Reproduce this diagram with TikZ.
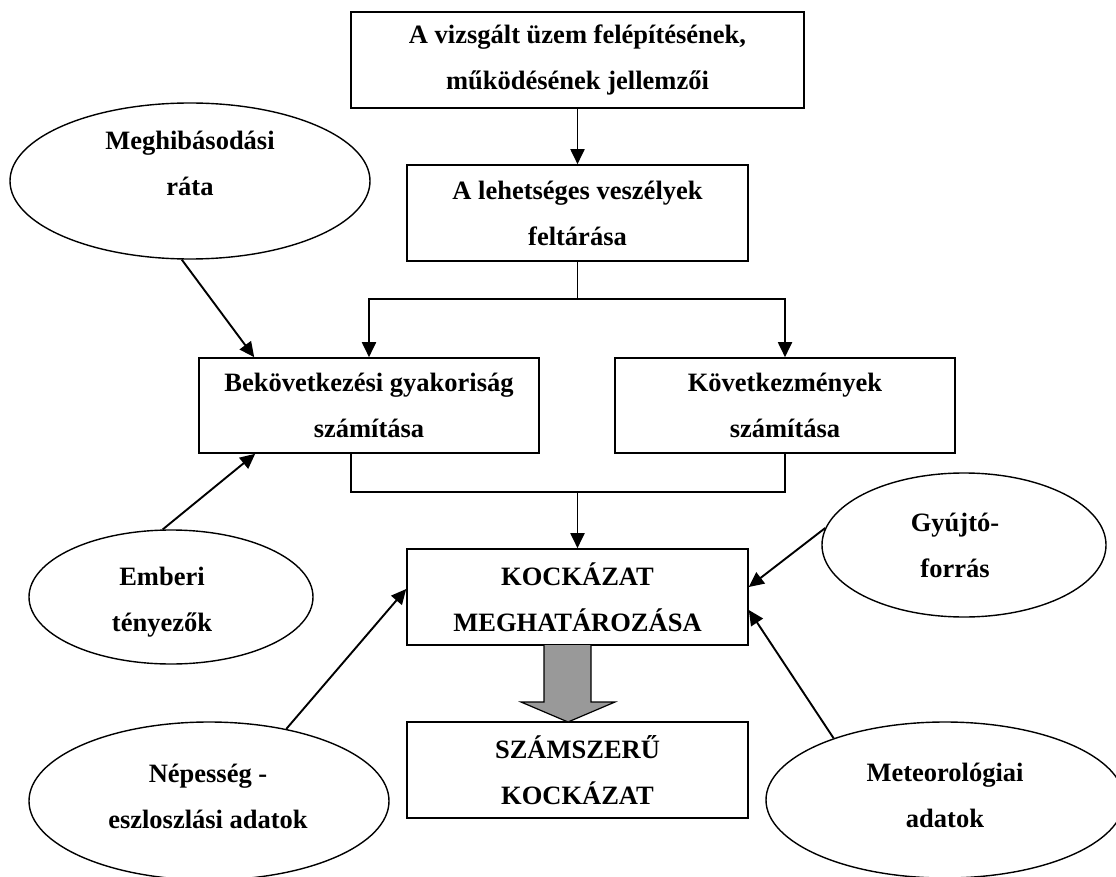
\documentclass[tikz,border=0pt]{standalone}
\usepackage{fontspec}
\setmainfont{Liberation Serif}
\usetikzlibrary{shapes.geometric,arrows.meta}

\newcommand{\szoveg}{\fontsize{26.5}{46}\selectfont\bfseries}

\tikzset{
  doboz/.style={draw, line width=1.6pt, align=center, inner sep=0pt, font=\szoveg},
  tojas/.style={draw, ellipse, line width=1.4pt, inner sep=0pt},
  felirat/.style={align=center, font=\szoveg},
  nyil/.style={line width=1.9pt, -{Triangle[length=15pt,width=14pt]}},
  vonal/.style={line width=1.6pt}
}

\begin{document}
\begin{tikzpicture}[x=1pt, y=-1pt]
        \useasboundingbox (0,0) rectangle (1116,877);
        % boxes
        \node[doboz, line width=2pt, minimum width=453pt, minimum height=96pt] (jell) at (577.5,60) {A vizsgált üzem felépítésének,\\működésének jellemzői};
        \node[doboz, minimum width=341pt, minimum height=96pt] (vesz) at (577.5,213) {A lehetséges veszélyek\\feltárása};
        \node[doboz, minimum width=340pt, minimum height=95pt] (gyak) at (369,405.5) {Bekövetkezési gyakoriság\\számítása};
        \node[doboz, minimum width=340pt, minimum height=95pt] (kov) at (785,405.5) {Következmények\\számítása};
        \node[doboz, minimum width=341pt, minimum height=96pt] (kock) at (577.5,597) {KOCKÁZAT\\MEGHATÁROZÁSA};
        \node[doboz, minimum width=341pt, minimum height=96pt] (szam) at (577.5,770) {SZÁMSZERŰ\\KOCKÁZAT};
        % ellipses
        \node[tojas, minimum width=360pt, minimum height=156pt] (megh) at (190,181) {};
        \node[tojas, minimum width=284pt, minimum height=134pt] (emb) at (171,597) {};
        \node[tojas, minimum width=360pt, minimum height=158pt] (nep) at (209,801) {};
        \node[tojas, minimum width=284pt, minimum height=144pt] (gyu) at (964,545) {};
        \node[tojas, minimum width=358pt, minimum height=156pt] (met) at (945,800) {};
        \node[felirat] (meghtxt) at (190,163) {Meghibásodási\\ráta};
        \node[felirat] (embtxt) at (162,602) {Emberi\\tényezők};
        \node[felirat] (neptxt) at (208,796) {Népesség -\\eszloszlási adatok};
        \node[felirat] (gyutxt) at (955,545.5) {Gyújtó-\\forrás};
        \node[felirat] (mettxt) at (945,795) {Meteorológiai\\adatok};
        % main flow
        \coordinate (split) at (577.5,299);
        \coordinate (merge) at (577.5,492);
        \draw[nyil] (jell.south) -- (vesz.north);
        \draw[vonal] (vesz.south) -- (split);
        \draw[nyil] (split) -| (gyak.north);
        \draw[nyil] (split) -| (kov.north);
        \draw[vonal] ([xshift=-18pt]gyak.south) |- (merge) -| (kov.south);
        \draw[nyil] (merge) -- (kock.north);
        % inputs
        \draw[nyil] (megh.-96) -- ([xshift=56pt]gyak.north west);
        \draw[nyil] (emb.97) -- ([xshift=57pt]gyak.south west);
        \draw[nyil] (nep.43) -- ([yshift=8pt]kock.west);
        \draw[nyil] (gyu.173) -- ([yshift=10pt]kock.east);
        \draw[nyil] (met.151) -- ([yshift=-13pt]kock.east);
        % result
        \draw[line width=1.2pt, fill=gray!80] (544,645) -- (544,702) -- (521,702) -- (568,722) -- (615,702) -- (591,702) -- (591,645);
\end{tikzpicture}
\end{document}
